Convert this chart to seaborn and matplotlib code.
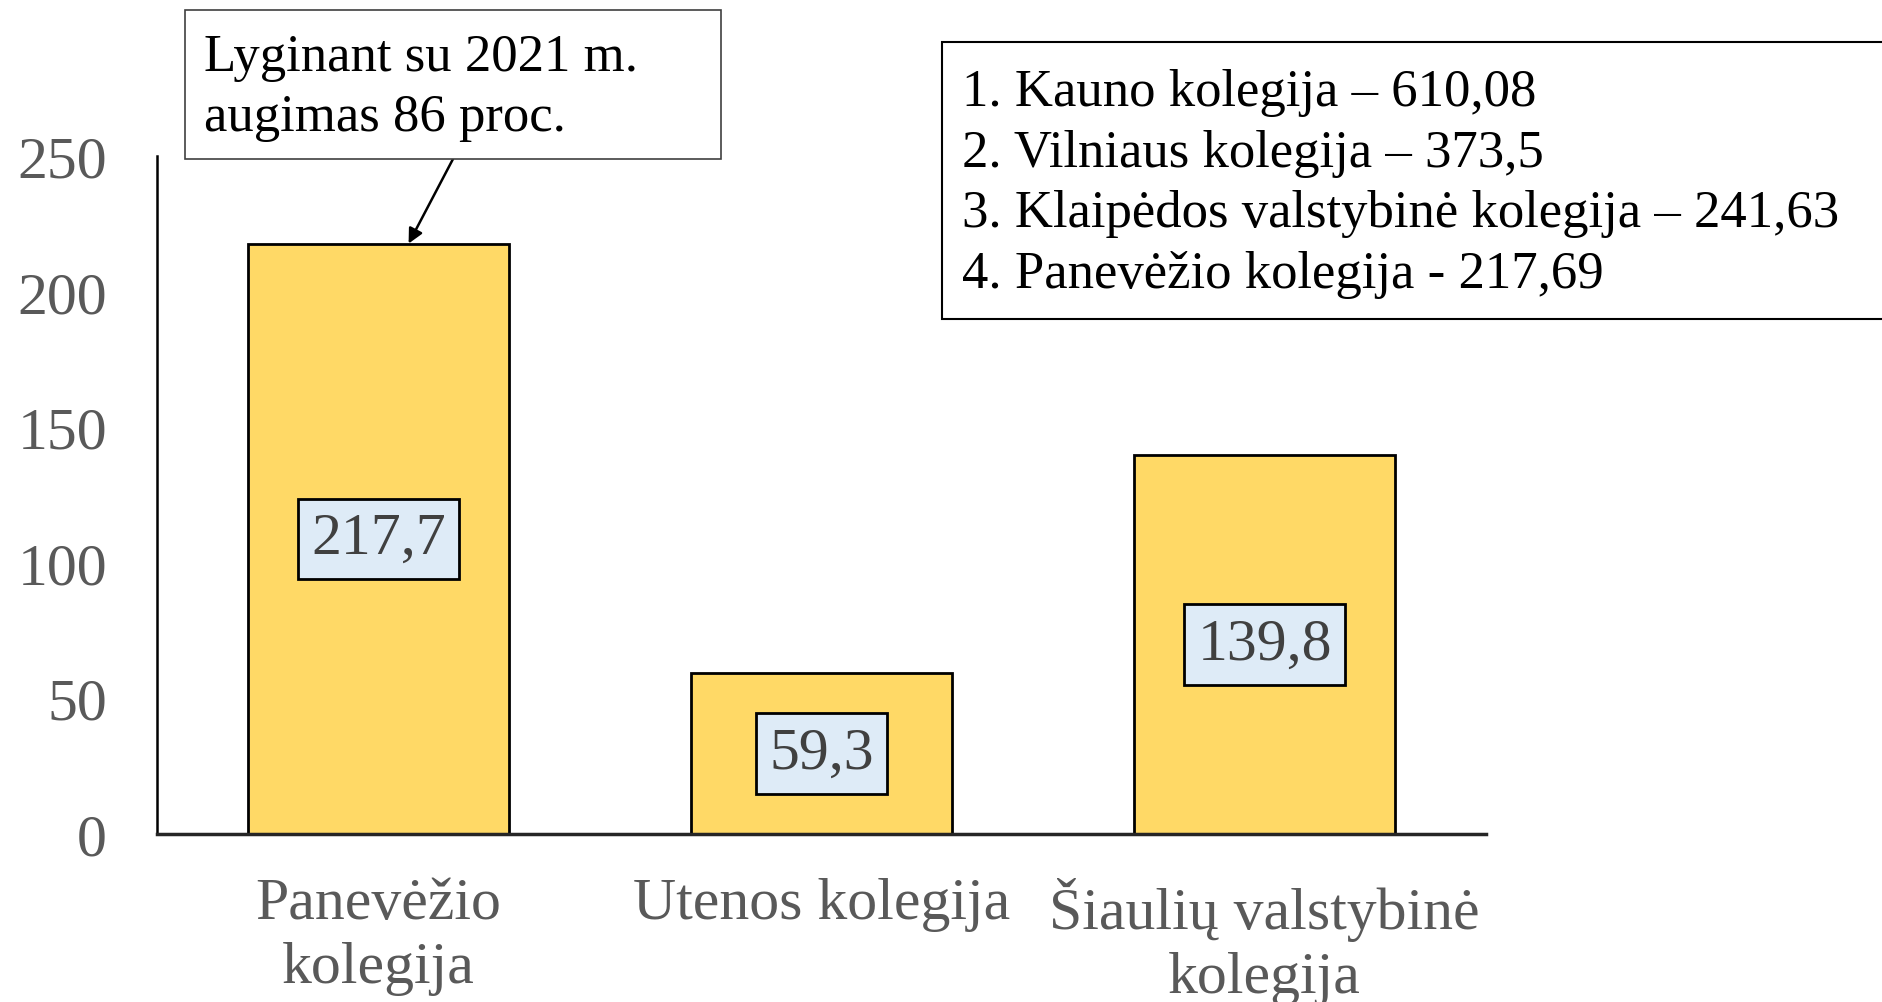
import matplotlib
matplotlib.use("Agg")
import matplotlib.pyplot as plt
import seaborn as sns
from matplotlib.patches import Rectangle

# Chart data
colleges = ["Panevėžio\nkolegija", "Utenos kolegija", "Šiaulių valstybinė\nkolegija"]
values = [217.7, 59.3, 139.8]
value_labels = ["217,7", "59,3", "139,8"]
yticks = [0, 50, 100, 150, 200, 250]

# Ranking box and note
ranking = [
    "1. Kauno kolegija – 610,08",
    "2. Vilniaus kolegija – 373,5",
    "3. Klaipėdos valstybinė kolegija – 241,63",
    "4. Panevėžio kolegija - 217,69",
]
note = "Lyginant su 2021 m.\naugimas 86 proc."

sns.set_style("white")
plt.rcParams["font.family"] = ["Liberation Serif", "DejaVu Serif"]

fig = plt.figure(figsize=(18.82, 10.03), dpi=100)
ax = fig.add_axes([0.0834, 0.1675, 0.7062, 0.676])

sns.barplot(x=colleges, y=values, color="#FFD966", saturation=1,
            edgecolor="black", linewidth=2, width=0.59, ax=ax)

ax.set_ylim(0, 250)
ax.set_xlim(-0.5, 2.5)
ax.set_yticks(yticks)
ax.tick_params(axis="both", length=0, labelsize=43, labelcolor="#595959")
ax.tick_params(axis="y", pad=36)
ax.tick_params(axis="x", pad=31)
for lbl in ax.get_xticklabels():
    lbl.set_linespacing(1.24)
ax.set_xlabel("")
ax.set_ylabel("")
sns.despine(ax=ax)
ax.spines["left"].set_color("black")
ax.spines["left"].set_linewidth(1.8)
ax.spines["bottom"].set_color("#262626")
ax.spines["bottom"].set_linewidth(2.5)

ax.bar_label(ax.containers[0], labels=value_labels, label_type="center",
             fontsize=43, color="#404040",
             bbox=dict(boxstyle="square,pad=0.22", fc="#DEEBF7", ec="black", lw=2))

# Note box with arrow to the first bar
fig.patches.append(Rectangle((185 / 1882, 1 - 160 / 1003), 536 / 1882, 149 / 1003,
                             transform=fig.transFigure, fc="white", ec="#404040",
                             lw=1.2, zorder=5))
fig.text(204 / 1882, 1 - 88 / 1003, note, fontsize=38, color="black",
         va="center", ha="left", linespacing=1.33, zorder=6)
ax.annotate("", xy=(0.068, values[0]), xycoords="data",
            xytext=(453 / 1882, 1 - 160 / 1003), textcoords="figure fraction",
            arrowprops=dict(arrowstyle="-|>", color="black", lw=1.8,
                            mutation_scale=22, shrinkA=0, shrinkB=0),
            annotation_clip=False)

# Ranking box at top right
fig.patches.append(Rectangle((942 / 1882, 1 - 320 / 1003), 0.52, 277 / 1003,
                             transform=fig.transFigure, fc="white", ec="black",
                             lw=1.5, zorder=5))
fig.text(962 / 1882, 1 - 184 / 1003, "\n".join(ranking), fontsize=38,
         color="black", va="center", ha="left", linespacing=1.35, zorder=6)

plt.savefig("out.png", dpi=100)
